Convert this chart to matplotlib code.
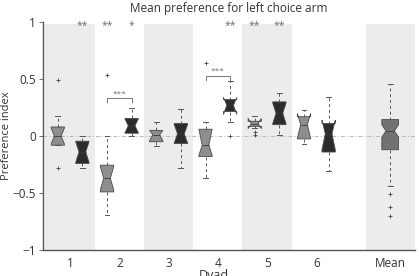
import numpy as np
import matplotlib
matplotlib.use("Agg")
import matplotlib.pyplot as plt

plt.rcParams['font.family'] = ['Open Sans', 'DejaVu Sans']

# --- data ---
dyads = ["1", "2", "3", "4", "5", "6"]

# light boxes (left of each dyad)
g_q1 = [-0.08, -0.49, -0.05, -0.18, 0.085, -0.025]
g_med = [0.0, -0.37, 0.01, -0.08, 0.11, 0.10]
g_q3 = [0.08, -0.255, 0.05, 0.06, 0.13, 0.17]
g_lo = [-0.08, -0.69, -0.085, -0.37, 0.07, -0.07]
g_hi = [0.18, 0.0, 0.12, 0.12, 0.175, 0.23]
g_cilo = [-0.07, -0.47, -0.04, -0.17, 0.065, -0.02]
g_cihi = [0.07, -0.27, 0.05, 0.06, 0.155, 0.20]
g_fliers = [[0.49, -0.28], [0.54], [], [0.645], [0.035, 0.005], []]

# dark boxes (right of each dyad)
d_q1 = [-0.24, 0.025, -0.065, 0.215, 0.10, -0.14]
d_med = [-0.14, 0.09, 0.02, 0.27, 0.20, 0.02]
d_q3 = [-0.045, 0.155, 0.11, 0.32, 0.30, 0.11]
d_lo = [-0.28, 0.0, -0.28, 0.125, 0.01, -0.31]
d_hi = [0.0, 0.25, 0.235, 0.48, 0.38, 0.345]
d_cilo = [-0.23, 0.03, -0.06, 0.19, 0.11, -0.12]
d_cihi = [-0.05, 0.15, 0.10, 0.34, 0.29, 0.14]
d_fliers = [[], [], [], [0.0], [], []]

# mean over dyads
m_stats = dict(q1=-0.12, med=0.045, q3=0.145, whislo=-0.44, whishi=0.46,
               cilo=-0.01, cihi=0.10, fliers=[-0.51, -0.625, -0.70])

# significance marks: (dyad, side, text)
stars = [(1, 1, "**"), (2, 0, "**"), (2, 1, "*"), (4, 1, "**"), (5, 0, "**"), (5, 1, "**")]
brackets = [2, 4]
bracket_y = [0.33, 0.53]


def make_stats(q1, med, q3, lo, hi, cilo, cihi, fl):
    out = []
    for i in range(len(q1)):
        out.append(dict(q1=q1[i], med=med[i], q3=q3[i], whislo=lo[i], whishi=hi[i],
                        cilo=cilo[i], cihi=cihi[i], fliers=np.array(fl[i])))
    return out


fig = plt.figure(figsize=(4.19, 2.76), dpi=100)
ax = fig.add_axes([0.1026, 0.094, 0.8874, 0.826])

x = np.arange(1, len(dyads) + 1)
mean_x = 7.5

# background shading
for d in [1, 3, 5]:
    ax.axvspan(d - 0.5, d + 0.5, ymax=0.99, color='#ececec', lw=0, zorder=0)
ax.axvspan(7.0, 8.0, ymax=0.99, color='#ececec', lw=0, zorder=0)
ax.axhline(0, color='#b8b8b8', lw=0.7, ls=(0, (4, 2, 1, 2)), zorder=1)


def draw(stats, pos, face, width):
    ax.bxp(stats, positions=pos, widths=width, shownotches=True, patch_artist=True,
           capwidths=0.1,
           boxprops=dict(facecolor=face, edgecolor='#4a4a4a', lw=0.6),
           medianprops=dict(color='#3a3a3a', lw=0.6),
           whiskerprops=dict(color='#555555', lw=0.7, ls=(0, (3, 3))),
           capprops=dict(color='#555555', lw=0.7),
           flierprops=dict(marker='+', markersize=3, markeredgecolor='#444444', markeredgewidth=0.6),
           manage_ticks=False)


draw(make_stats(g_q1, g_med, g_q3, g_lo, g_hi, g_cilo, g_cihi, g_fliers), x - 0.25, '#8e8e8e', 0.27)
draw(make_stats(d_q1, d_med, d_q3, d_lo, d_hi, d_cilo, d_cihi, d_fliers), x + 0.25, '#2c2c2c', 0.27)
m = dict(m_stats)
m['fliers'] = np.array(m['fliers'])
draw([m], [mean_x], '#727272', 0.34)

for d, side, txt in stars:
    ax.text(d - 0.25 + 0.5 * side, 0.92, txt, ha='center', va='bottom',
            fontsize=7.5, color='#6a6a6a')

for d, by in zip(brackets, bracket_y):
    ax.plot([d - 0.25, d - 0.25, d + 0.25, d + 0.25], [by - 0.035, by, by, by - 0.035],
            color='#777777', lw=0.7)
    ax.text(d, by + 0.005, "***", ha='center', va='bottom', fontsize=6, color='#777777')

ax.set_xlim(0.45, 8.0)
ax.set_ylim(-1, 1)
ax.set_xticks(list(x) + [mean_x])
ax.set_xticklabels(dyads + ["Mean"])
ax.set_yticks([-1, -0.5, 0, 0.5, 1])
ax.set_yticklabels(["\u22121", "\u22120.5", "0", "0.5", "1"])
ax.tick_params(labelsize=8.5, length=3, width=0.6, color='#555555', labelcolor='#333333', pad=2)
ax.tick_params(axis='x', length=0, pad=5)

for s in ['top', 'right']:
    ax.spines[s].set_visible(False)
for s in ['left', 'bottom']:
    ax.spines[s].set_color('#555555')
    ax.spines[s].set_linewidth(1.0)

ax.set_title("Mean preference for left choice arm", fontsize=8.5, color='#333333', pad=7)
ax.set_ylabel("Preference index", fontsize=8, color='#333333')
ax.yaxis.set_label_coords(-0.083, 0.5)
ax.set_xlabel("Dyad", fontsize=9, color='#333333')
ax.xaxis.set_label_coords(0.46, -0.085)
ax.xaxis.label.set_va('top')

fig.savefig("out.png", dpi=100)
